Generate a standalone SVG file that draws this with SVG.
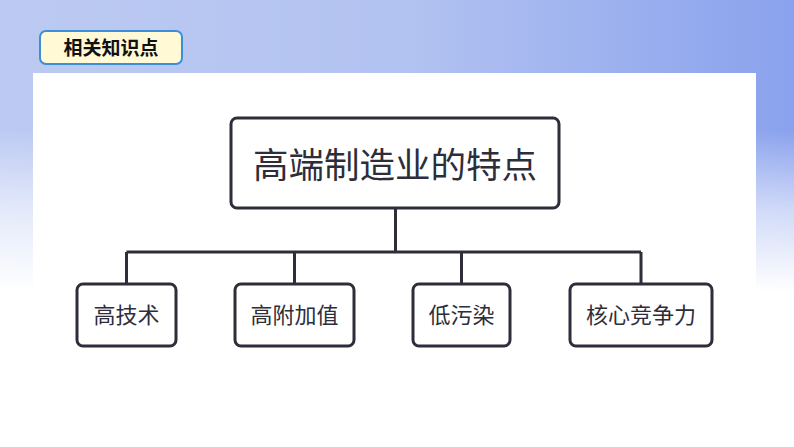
<svg xmlns="http://www.w3.org/2000/svg" width="794" height="447" viewBox="0 0 794 447">
<defs>
<linearGradient id="sky" x1="0" y1="0" x2="1" y2="0">
<stop offset="0" stop-color="#bccaf2"/>
<stop offset="0.5" stop-color="#b3c3f1"/>
<stop offset="1" stop-color="#8aa2ed"/>
</linearGradient>
<linearGradient id="fade" x1="0" y1="0" x2="0" y2="1">
<stop offset="0" stop-color="#fff" stop-opacity="0"/>
<stop offset="0.5" stop-color="#fff" stop-opacity="0.6"/>
<stop offset="1" stop-color="#fff" stop-opacity="1"/>
</linearGradient>
<style>
.box{fill:#ffffff;stroke:#2e2d3a;stroke-width:3}
.lbl{font-family:"Noto Sans CJK SC","Noto Sans",sans-serif;fill:#2e2d3a;text-anchor:middle}
.conn{fill:none;stroke:#2e2d3a;stroke-width:3}
</style>
</defs>
<rect x="0" y="0" width="794" height="447" fill="#ffffff"/>
<rect x="0" y="0" width="794" height="290" fill="url(#sky)"/>
<rect x="0" y="130" width="794" height="161" fill="url(#fade)"/>
<rect x="33" y="73" width="723" height="374" fill="#ffffff"/>
<g id="title-tag">
<rect x="40" y="31" width="142" height="33" rx="6" fill="#fff9d6" stroke="#3a8fd8" stroke-width="2"/>
<text x="111" y="55" font-family="'Noto Sans CJK SC',sans-serif" font-weight="bold" font-size="19" fill="#111" text-anchor="middle">相关知识点</text>
</g>
<g id="connectors">
<path class="conn" d="M395.5 208 V252 M126.5 252 H641 M126.5 252 V284 M294.5 252 V284 M461.5 252 V284 M641 252 V284"/>
</g>
<g id="root">
<rect class="box" x="231" y="118" width="328" height="90" rx="6"/>
<text class="lbl" x="395" y="178" font-size="35.5">高端制造业的特点</text>
</g>
<g id="n1">
<rect class="box" x="77" y="284" width="99" height="62" rx="6"/>
<text class="lbl" x="126.5" y="323" font-size="22">高技术</text>
</g>
<g id="n2">
<rect class="box" x="235" y="284" width="119" height="62" rx="6"/>
<text class="lbl" x="294.5" y="323" font-size="22">高附加值</text>
</g>
<g id="n3">
<rect class="box" x="413" y="284" width="97" height="62" rx="6"/>
<text class="lbl" x="461.5" y="323" font-size="22">低污染</text>
</g>
<g id="n4">
<rect class="box" x="570" y="284" width="142" height="62" rx="6"/>
<text class="lbl" x="641" y="323" font-size="22">核心竞争力</text>
</g>
</svg>
